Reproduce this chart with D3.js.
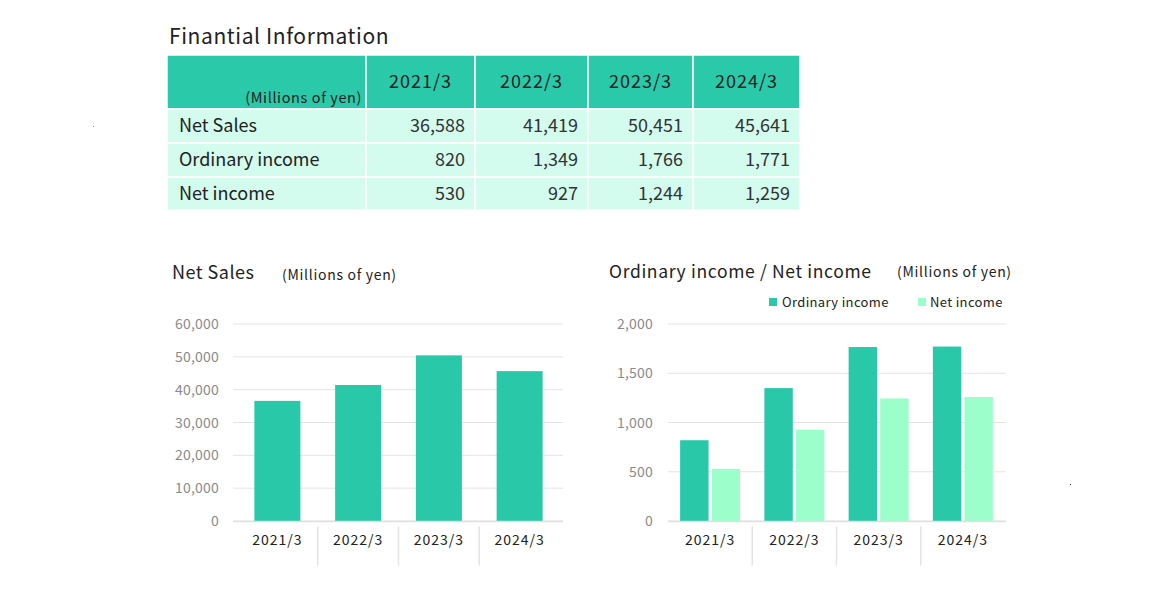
<!DOCTYPE html>
<html><head><meta charset="utf-8">
<script src="https://cdn.jsdelivr.net/npm/d3@7"></script>
<style>
body{margin:0;background:#fff;}
svg{display:block;font-family:"Noto Sans CJK JP","Noto Sans",sans-serif;}
</style></head>
<body><svg id="c" width="1172" height="597"></svg>
<script>
const years = ["2021/3","2022/3","2023/3","2024/3"];
const rowLabels = ["Net Sales","Ordinary income","Net income"];
const netSales = [36588, 41419, 50451, 45641];
const ordinaryIncome = [820, 1349, 1766, 1771];
const netIncome = [530, 927, 1244, 1259];
const salesTicks = [0,10000,20000,30000,40000,50000,60000];
const incomeTicks = [0,500,1000,1500,2000];

const C_DARK = "#28c8a8", C_LIGHT = "#9bfecb", C_ROW = "#d3fbee";
const svg = d3.select("#c");
const fmt = d3.format(",");

// ---- Table ----
svg.append("text").attr("x",169).attr("y",44).attr("font-size",21).attr("letter-spacing",0.6).attr("fill","#222").text("Finantial Information");
const colEdges = [167,366,475,588,693,800];
const rowEdges = [55,109,143,177,210];
const tbl = svg.append("g");
for (let r=0;r<4;r++){
  for (let c=0;c<5;c++){
    tbl.append("rect").attr("x",colEdges[c]).attr("y",rowEdges[r])
      .attr("width",colEdges[c+1]-colEdges[c]).attr("height",rowEdges[r+1]-rowEdges[r])
      .attr("fill", r===0?"#29c9a9":C_ROW).attr("stroke","#fff").attr("stroke-width",1.5);
  }
}
tbl.append("text").attr("x",362).attr("y",103).attr("text-anchor","end").attr("font-size",14.5).attr("letter-spacing",0.6).attr("fill","#222").text("(Millions of yen)");
years.forEach((y,i)=>{
  tbl.append("text").attr("x",(colEdges[i+1]+colEdges[i+2])/2).attr("y",88).attr("text-anchor","middle")
    .attr("font-size",18).attr("letter-spacing",1).attr("fill","#222").text(y);
});
const tableData = [netSales, ordinaryIncome, netIncome];
rowLabels.forEach((lab,r)=>{
  const yy = (rowEdges[r+1]+rowEdges[r+2])/2+6;
  tbl.append("text").attr("x",179).attr("y",yy).attr("font-size",18).attr("fill","#222").text(lab);
  tableData[r].forEach((v,i)=>{
    tbl.append("text").attr("x",colEdges[i+2]-10).attr("y",yy).attr("text-anchor","end")
      .attr("font-size",18).attr("fill","#333").text(fmt(v));
  });
});

// ---- Chart helper ----
function axisY(g, y, ticks, x0, x1, labelX){
  ticks.forEach(t=>{
    g.append("line").attr("x1",x0).attr("x2",x1).attr("y1",y(t)).attr("y2",y(t))
      .attr("stroke","#e4e4e4").attr("stroke-width",1);
    g.append("text").attr("x",labelX).attr("y",y(t)+5).attr("text-anchor","end")
      .attr("font-size",14).attr("letter-spacing",0.2).attr("fill","#8a8a8a").text(fmt(t));
  });
}
function axisX(g, x, x0, x1, base){
  g.append("line").attr("x1",x0).attr("x2",x1).attr("y1",base).attr("y2",base).attr("stroke","#e0e0e0").attr("stroke-width",1.5);
  years.forEach((yr,i)=>{
    g.append("text").attr("x",x(yr)+x.bandwidth()/2).attr("y",base+23).attr("text-anchor","middle")
      .attr("font-size",14).attr("letter-spacing",1).attr("fill","#222").text(yr);
    if(i>0){
      g.append("line").attr("x1",x(yr)).attr("x2",x(yr)).attr("y1",base+5).attr("y2",base+44)
        .attr("stroke","#e4e4e4").attr("stroke-width",1.5);
    }
  });
}

// ---- Net Sales chart ----
const g1 = svg.append("g");
g1.append("text").attr("x",172).attr("y",279).attr("font-size",18).attr("letter-spacing",0.5).attr("fill","#222").text("Net Sales");
g1.append("text").attr("x",282).attr("y",280).attr("font-size",14).attr("letter-spacing",0.7).attr("fill","#222").text("(Millions of yen)");
const y1 = d3.scaleLinear().domain([0,60000]).range([521,324]);
const xs1 = d3.scaleBand().domain(years).range([237,560]);
axisY(g1, y1, salesTicks, 233, 563, 219);
g1.selectAll("rect.bar").data(netSales).join("rect").attr("class","bar")
  .attr("x",(d,i)=>xs1(years[i])+xs1.bandwidth()/2-23).attr("width",46)
  .attr("y",d=>y1(d)).attr("height",d=>y1(0)-y1(d)).attr("fill",C_DARK);
axisX(g1, xs1, 233, 563, 521.5);

// ---- Income chart ----
const g2 = svg.append("g");
g2.append("text").attr("x",609).attr("y",278).attr("font-size",17.5).attr("letter-spacing",0.65).attr("fill","#222").text("Ordinary income / Net income");
g2.append("text").attr("x",897).attr("y",277).attr("font-size",14).attr("letter-spacing",0.7).attr("fill","#222").text("(Millions of yen)");
g2.append("rect").attr("x",769).attr("y",298).attr("width",8).attr("height",8).attr("fill",C_DARK);
g2.append("text").attr("x",782).attr("y",307).attr("font-size",13).attr("letter-spacing",0.35).attr("fill","#222").text("Ordinary income");
g2.append("rect").attr("x",918).attr("y",298).attr("width",8).attr("height",8).attr("fill",C_LIGHT);
g2.append("text").attr("x",930).attr("y",307).attr("font-size",13).attr("letter-spacing",0.35).attr("fill","#222").text("Net income");
const y2 = d3.scaleLinear().domain([0,2000]).range([521,324]);
const x2 = d3.scaleBand().domain(years).range([668,1005]);
const sub = d3.scaleBand().domain(["o","n"]).range([0,60]).paddingInner(0.1);
axisY(g2, y2, incomeTicks, 668, 1006, 653);
const grp = g2.selectAll("g.grp").data(years).join("g").attr("class","grp")
  .attr("transform",d=>`translate(${x2(d)+x2.bandwidth()/2-30},0)`);
grp.append("rect").attr("x",sub("o")).attr("width",sub.bandwidth())
  .attr("y",(d,i)=>y2(ordinaryIncome[i])).attr("height",(d,i)=>y2(0)-y2(ordinaryIncome[i])).attr("fill",C_DARK);
grp.append("rect").attr("x",sub("n")).attr("width",sub.bandwidth())
  .attr("y",(d,i)=>y2(netIncome[i])).attr("height",(d,i)=>y2(0)-y2(netIncome[i])).attr("fill",C_LIGHT);
axisX(g2, x2, 668, 1006, 521.5);

// stray specks in the source image
svg.append("rect").attr("x",93).attr("y",126).attr("width",1).attr("height",1).attr("fill","#2c9");
svg.append("rect").attr("x",1070).attr("y",484).attr("width",1).attr("height",1).attr("fill","#333");
</script></body></html>
